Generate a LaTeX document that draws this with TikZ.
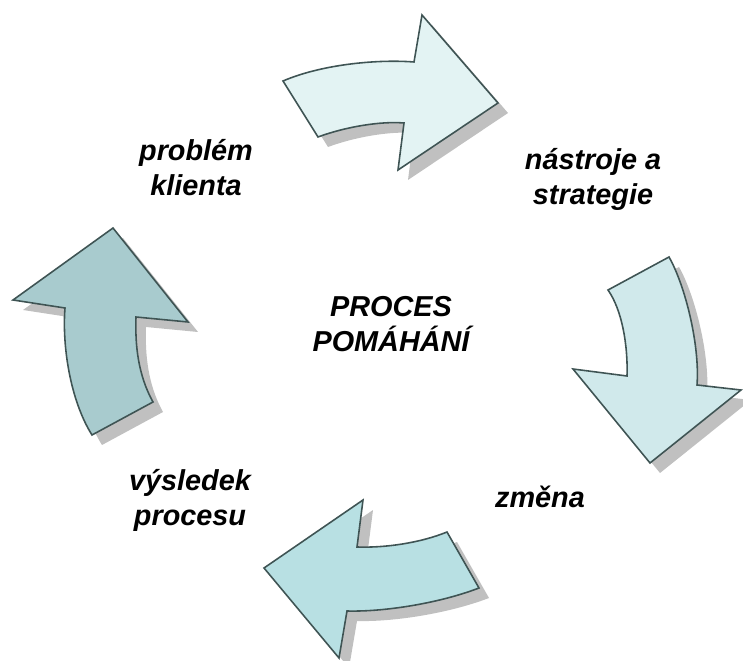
\documentclass[tikz,border=0pt]{standalone}
\usepackage{fontspec}
\setmainfont{Liberation Sans}
\definecolor{edge}{HTML}{3F5454}
\definecolor{shade}{HTML}{C0C0C0}
\definecolor{fa}{HTML}{E3F3F3}
\definecolor{fb}{HTML}{D0E9EB}
\definecolor{fc}{HTML}{B8E0E3}
\definecolor{fd}{HTML}{A8CBCE}
\begin{document}
\begin{tikzpicture}[x=0.02cm,y=-0.02cm,
  arrowbox/.style={draw=edge,line width=0.9pt,line join=miter},
  shadowbox/.style={fill=shade,draw=none},
  lbl/.style={font=\fontsize{16.4}{20}\selectfont\bfseries\itshape,align=center,inner sep=0pt}]
\useasboundingbox (0,0) rectangle (743,661);
\def\arrA{(283,81) .. controls (320,65) and (375,59) .. (414,62) -- (422,15) -- (498,103) -- (398,170) -- (404,123) .. controls (380,121) and (345,127) .. (318,137) -- cycle}
\def\arrB{(608,290) -- (669,257) .. controls (685,285) and (700,345) .. (697,385) -- (741,390) -- (650,463) -- (573,369) -- (627,376) .. controls (628,345) and (622,310) .. (608,290) -- cycle}
\def\arrC{(447,532) -- (479,588) .. controls (440,603) and (385,612) .. (347,611) -- (339,658) -- (264,568) -- (363,500) -- (357,547) .. controls (385,548) and (420,543) .. (447,532) -- cycle}
\def\arrD{(92,435) -- (153,402) .. controls (138,375) and (135,345) .. (136,317) -- (188,322) -- (113,228) -- (13,300) -- (65,308) .. controls (62,345) and (70,400) .. (92,435) -- cycle}
\begin{scope}[shift={(10,10)}]
  \fill[shadowbox] \arrA;
  \fill[shadowbox] \arrB;
  \fill[shadowbox] \arrC;
  \fill[shadowbox] \arrD;
\end{scope}
\filldraw[arrowbox,fill=fa] \arrA;
\filldraw[arrowbox,fill=fb] \arrB;
\filldraw[arrowbox,fill=fc] \arrC;
\filldraw[arrowbox,fill=fd] \arrD;
\node[lbl] (t1) at (196,168) {problém\\klienta};
\node[lbl] (t2) at (593,179) {nástroje a\\strategie};
\node[lbl] (t3) at (391,324) {PROCES\\POMÁHÁNÍ};
\node[lbl] (t4) at (540,497) {změna};
\node[lbl] (t5) at (190,500) {výsledek\\procesu};
\end{tikzpicture}
\end{document}
